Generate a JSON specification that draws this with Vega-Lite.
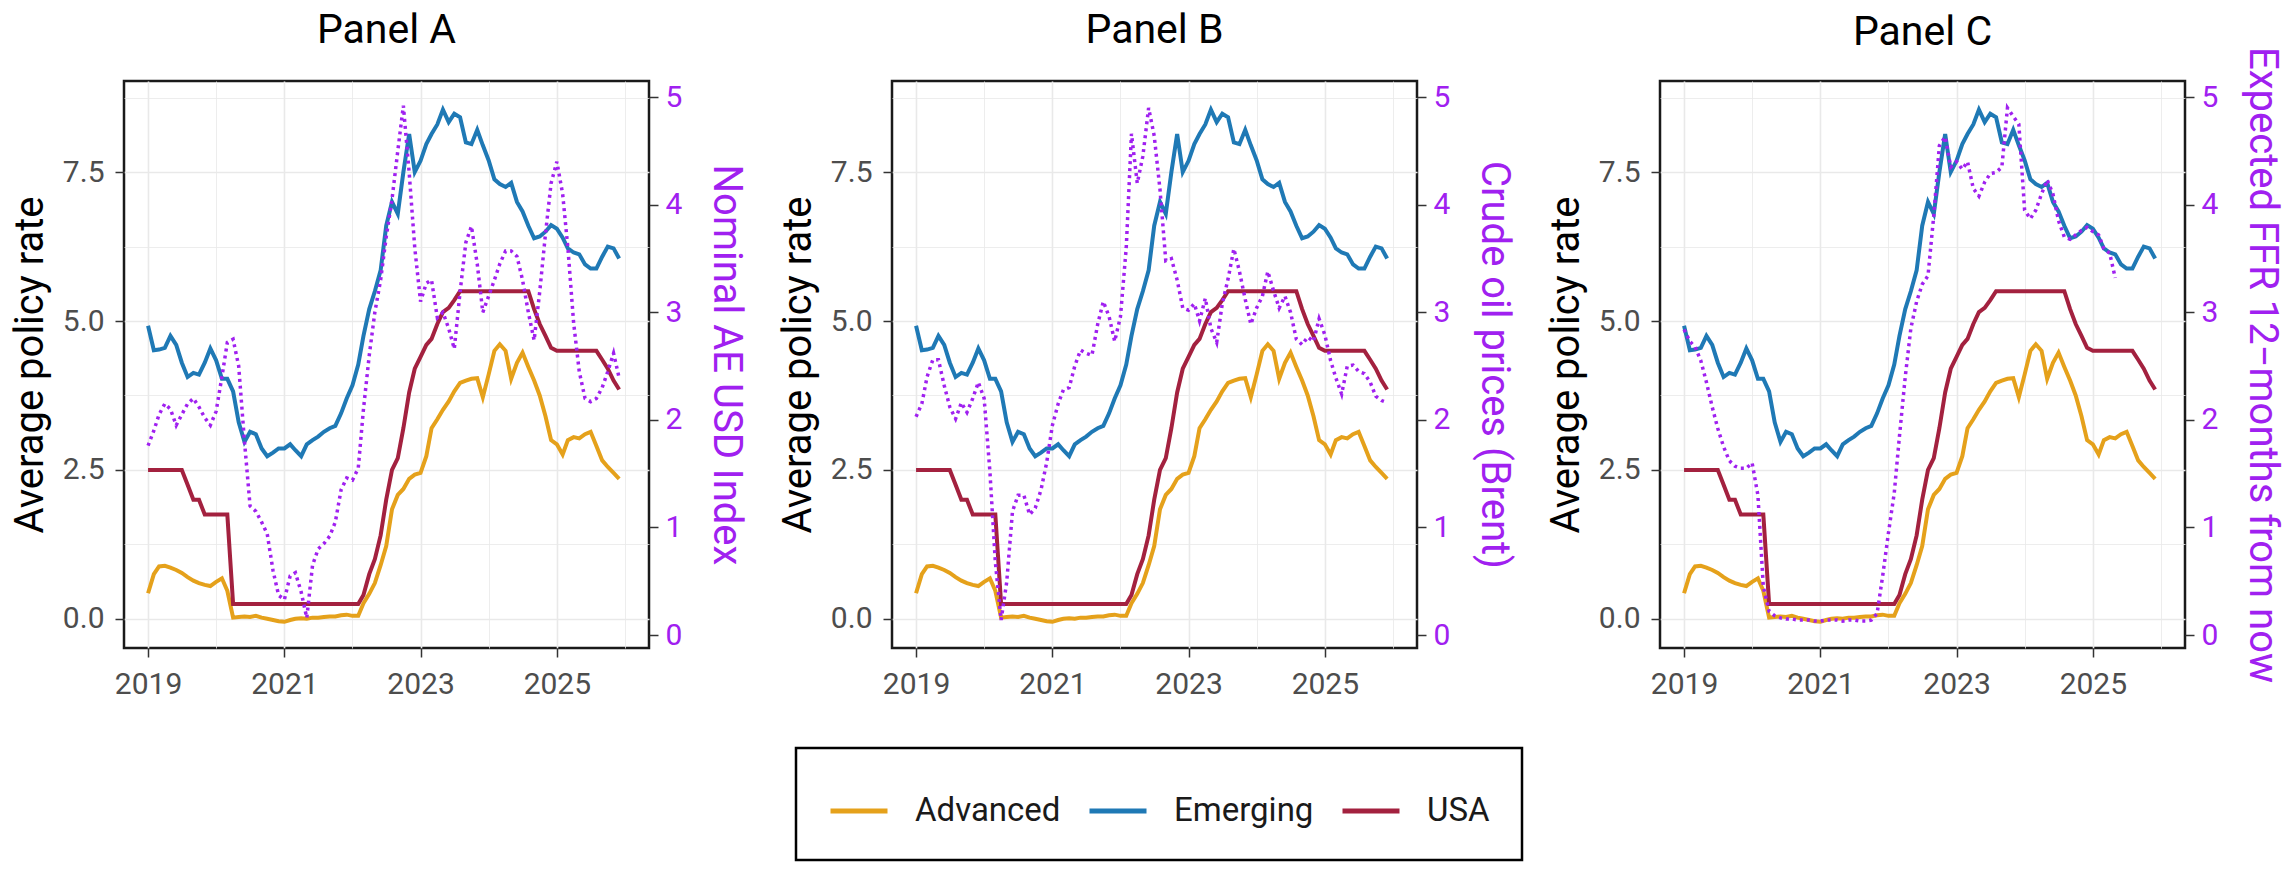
{
  "$schema": "https://vega.github.io/schema/vega-lite/v6.json",
  "background": "white",
  "padding": {"left": 9, "top": 8, "right": 5, "bottom": 0},
  "spacing": 243,
  "bounds": "flush",
  "datasets": {
    "rows": [
      {"date": "2019-01-01", "Advanced": 0.43, "Emerging": 4.92, "USA": 2.5, "usd": 1.76, "oil": 2.03, "ffr": 2.84},
      {"date": "2019-02-01", "Advanced": 0.75, "Emerging": 4.51, "USA": 2.5, "usd": 1.9, "oil": 2.15, "ffr": 2.73},
      {"date": "2019-03-01", "Advanced": 0.88, "Emerging": 4.52, "USA": 2.5, "usd": 2.05, "oil": 2.4, "ffr": 2.68},
      {"date": "2019-04-01", "Advanced": 0.89, "Emerging": 4.55, "USA": 2.5, "usd": 2.15, "oil": 2.56, "ffr": 2.55},
      {"date": "2019-05-01", "Advanced": 0.86, "Emerging": 4.75, "USA": 2.5, "usd": 2.1, "oil": 2.56, "ffr": 2.35},
      {"date": "2019-06-01", "Advanced": 0.82, "Emerging": 4.6, "USA": 2.5, "usd": 1.95, "oil": 2.32, "ffr": 2.12},
      {"date": "2019-07-01", "Advanced": 0.77, "Emerging": 4.3, "USA": 2.5, "usd": 2.05, "oil": 2.12, "ffr": 1.92},
      {"date": "2019-08-01", "Advanced": 0.7, "Emerging": 4.06, "USA": 2.25, "usd": 2.15, "oil": 2.01, "ffr": 1.75},
      {"date": "2019-09-01", "Advanced": 0.64, "Emerging": 4.13, "USA": 2.0, "usd": 2.2, "oil": 2.16, "ffr": 1.62},
      {"date": "2019-10-01", "Advanced": 0.6, "Emerging": 4.1, "USA": 2.0, "usd": 2.12, "oil": 2.07, "ffr": 1.57},
      {"date": "2019-11-01", "Advanced": 0.57, "Emerging": 4.3, "USA": 1.75, "usd": 2.02, "oil": 2.2, "ffr": 1.55},
      {"date": "2019-12-01", "Advanced": 0.55, "Emerging": 4.54, "USA": 1.75, "usd": 1.95, "oil": 2.35, "ffr": 1.55},
      {"date": "2020-01-01", "Advanced": 0.62, "Emerging": 4.34, "USA": 1.75, "usd": 2.08, "oil": 2.2, "ffr": 1.6},
      {"date": "2020-02-01", "Advanced": 0.68, "Emerging": 4.03, "USA": 1.75, "usd": 2.4, "oil": 1.52, "ffr": 1.3},
      {"date": "2020-03-01", "Advanced": 0.47, "Emerging": 4.03, "USA": 1.75, "usd": 2.72, "oil": 0.68, "ffr": 0.45},
      {"date": "2020-04-01", "Advanced": 0.02, "Emerging": 3.82, "USA": 0.25, "usd": 2.75, "oil": 0.14, "ffr": 0.22},
      {"date": "2020-05-01", "Advanced": 0.03, "Emerging": 3.3, "USA": 0.25, "usd": 2.5, "oil": 0.49, "ffr": 0.18},
      {"date": "2020-06-01", "Advanced": 0.04, "Emerging": 2.97, "USA": 0.25, "usd": 1.8, "oil": 1.15, "ffr": 0.16},
      {"date": "2020-07-01", "Advanced": 0.03, "Emerging": 3.14, "USA": 0.25, "usd": 1.2, "oil": 1.3, "ffr": 0.15},
      {"date": "2020-08-01", "Advanced": 0.05, "Emerging": 3.1, "USA": 0.25, "usd": 1.15, "oil": 1.3, "ffr": 0.15},
      {"date": "2020-09-01", "Advanced": 0.02, "Emerging": 2.86, "USA": 0.25, "usd": 1.05, "oil": 1.12, "ffr": 0.14},
      {"date": "2020-10-01", "Advanced": 0.0, "Emerging": 2.73, "USA": 0.25, "usd": 0.94, "oil": 1.18, "ffr": 0.14},
      {"date": "2020-11-01", "Advanced": -0.02, "Emerging": 2.79, "USA": 0.25, "usd": 0.6, "oil": 1.35, "ffr": 0.14},
      {"date": "2020-12-01", "Advanced": -0.04, "Emerging": 2.86, "USA": 0.25, "usd": 0.37, "oil": 1.6, "ffr": 0.13},
      {"date": "2021-01-01", "Advanced": -0.05, "Emerging": 2.86, "USA": 0.25, "usd": 0.33, "oil": 1.95, "ffr": 0.13},
      {"date": "2021-02-01", "Advanced": -0.02, "Emerging": 2.93, "USA": 0.25, "usd": 0.55, "oil": 2.15, "ffr": 0.14},
      {"date": "2021-03-01", "Advanced": 0.0, "Emerging": 2.83, "USA": 0.25, "usd": 0.58, "oil": 2.28, "ffr": 0.14},
      {"date": "2021-04-01", "Advanced": 0.01, "Emerging": 2.73, "USA": 0.25, "usd": 0.4, "oil": 2.3, "ffr": 0.14},
      {"date": "2021-05-01", "Advanced": 0.0, "Emerging": 2.93, "USA": 0.25, "usd": 0.16, "oil": 2.5, "ffr": 0.13},
      {"date": "2021-06-01", "Advanced": 0.02, "Emerging": 3.0, "USA": 0.25, "usd": 0.65, "oil": 2.65, "ffr": 0.14},
      {"date": "2021-07-01", "Advanced": 0.02, "Emerging": 3.06, "USA": 0.25, "usd": 0.8, "oil": 2.62, "ffr": 0.14},
      {"date": "2021-08-01", "Advanced": 0.03, "Emerging": 3.14, "USA": 0.25, "usd": 0.85, "oil": 2.6, "ffr": 0.13},
      {"date": "2021-09-01", "Advanced": 0.04, "Emerging": 3.2, "USA": 0.25, "usd": 0.92, "oil": 2.89, "ffr": 0.13},
      {"date": "2021-10-01", "Advanced": 0.04, "Emerging": 3.24, "USA": 0.25, "usd": 1.05, "oil": 3.1, "ffr": 0.14},
      {"date": "2021-11-01", "Advanced": 0.06, "Emerging": 3.45, "USA": 0.25, "usd": 1.35, "oil": 2.96, "ffr": 0.2},
      {"date": "2021-12-01", "Advanced": 0.07, "Emerging": 3.7, "USA": 0.25, "usd": 1.46, "oil": 2.73, "ffr": 0.55},
      {"date": "2022-01-01", "Advanced": 0.05, "Emerging": 3.92, "USA": 0.25, "usd": 1.44, "oil": 2.96, "ffr": 0.95},
      {"date": "2022-02-01", "Advanced": 0.05, "Emerging": 4.27, "USA": 0.25, "usd": 1.55, "oil": 3.6, "ffr": 1.32},
      {"date": "2022-03-01", "Advanced": 0.26, "Emerging": 4.75, "USA": 0.4, "usd": 2.1, "oil": 4.66, "ffr": 1.85},
      {"date": "2022-04-01", "Advanced": 0.42, "Emerging": 5.2, "USA": 0.75, "usd": 2.6, "oil": 4.2, "ffr": 2.4},
      {"date": "2022-05-01", "Advanced": 0.6, "Emerging": 5.5, "USA": 1.0, "usd": 3.0, "oil": 4.45, "ffr": 2.85},
      {"date": "2022-06-01", "Advanced": 0.9, "Emerging": 5.85, "USA": 1.4, "usd": 3.3, "oil": 4.9, "ffr": 3.1},
      {"date": "2022-07-01", "Advanced": 1.22, "Emerging": 6.6, "USA": 2.0, "usd": 3.7, "oil": 4.64, "ffr": 3.26},
      {"date": "2022-08-01", "Advanced": 1.84, "Emerging": 7.0, "USA": 2.5, "usd": 4.05, "oil": 4.14, "ffr": 3.34},
      {"date": "2022-09-01", "Advanced": 2.08, "Emerging": 6.8, "USA": 2.7, "usd": 4.5, "oil": 3.48, "ffr": 3.9},
      {"date": "2022-10-01", "Advanced": 2.18, "Emerging": 7.5, "USA": 3.2, "usd": 4.92, "oil": 3.5, "ffr": 4.55},
      {"date": "2022-11-01", "Advanced": 2.35, "Emerging": 8.14, "USA": 3.8, "usd": 4.3, "oil": 3.3, "ffr": 4.63},
      {"date": "2022-12-01", "Advanced": 2.42, "Emerging": 7.5, "USA": 4.2, "usd": 3.6, "oil": 3.04, "ffr": 4.35},
      {"date": "2023-01-01", "Advanced": 2.45, "Emerging": 7.69, "USA": 4.4, "usd": 3.1, "oil": 3.02, "ffr": 4.4},
      {"date": "2023-02-01", "Advanced": 2.73, "Emerging": 7.97, "USA": 4.6, "usd": 3.27, "oil": 3.08, "ffr": 4.33},
      {"date": "2023-03-01", "Advanced": 3.2, "Emerging": 8.14, "USA": 4.7, "usd": 3.3, "oil": 2.92, "ffr": 4.4},
      {"date": "2023-04-01", "Advanced": 3.35, "Emerging": 8.3, "USA": 4.95, "usd": 2.95, "oil": 3.13, "ffr": 4.15},
      {"date": "2023-05-01", "Advanced": 3.51, "Emerging": 8.55, "USA": 5.15, "usd": 3.0, "oil": 2.85, "ffr": 4.08},
      {"date": "2023-06-01", "Advanced": 3.65, "Emerging": 8.34, "USA": 5.22, "usd": 2.85, "oil": 2.72, "ffr": 4.21},
      {"date": "2023-07-01", "Advanced": 3.82, "Emerging": 8.48, "USA": 5.35, "usd": 2.66, "oil": 3.08, "ffr": 4.29},
      {"date": "2023-08-01", "Advanced": 3.96, "Emerging": 8.42, "USA": 5.5, "usd": 3.19, "oil": 3.31, "ffr": 4.3},
      {"date": "2023-09-01", "Advanced": 4.0, "Emerging": 8.0, "USA": 5.5, "usd": 3.65, "oil": 3.59, "ffr": 4.35},
      {"date": "2023-10-01", "Advanced": 4.03, "Emerging": 7.97, "USA": 5.5, "usd": 3.8, "oil": 3.38, "ffr": 4.9},
      {"date": "2023-11-01", "Advanced": 4.04, "Emerging": 8.21, "USA": 5.5, "usd": 3.45, "oil": 3.12, "ffr": 4.82},
      {"date": "2023-12-01", "Advanced": 3.72, "Emerging": 7.95, "USA": 5.5, "usd": 3.0, "oil": 2.89, "ffr": 4.75},
      {"date": "2024-01-01", "Advanced": 4.1, "Emerging": 7.7, "USA": 5.5, "usd": 3.15, "oil": 3.04, "ffr": 3.95},
      {"date": "2024-02-01", "Advanced": 4.5, "Emerging": 7.38, "USA": 5.5, "usd": 3.3, "oil": 3.15, "ffr": 3.87},
      {"date": "2024-03-01", "Advanced": 4.61, "Emerging": 7.3, "USA": 5.5, "usd": 3.45, "oil": 3.38, "ffr": 3.95},
      {"date": "2024-04-01", "Advanced": 4.5, "Emerging": 7.25, "USA": 5.5, "usd": 3.57, "oil": 3.2, "ffr": 4.1},
      {"date": "2024-05-01", "Advanced": 4.03, "Emerging": 7.32, "USA": 5.5, "usd": 3.57, "oil": 3.04, "ffr": 4.23},
      {"date": "2024-06-01", "Advanced": 4.3, "Emerging": 7.0, "USA": 5.5, "usd": 3.52, "oil": 3.15, "ffr": 4.1},
      {"date": "2024-07-01", "Advanced": 4.47, "Emerging": 6.84, "USA": 5.5, "usd": 3.3, "oil": 3.0, "ffr": 3.85},
      {"date": "2024-08-01", "Advanced": 4.23, "Emerging": 6.6, "USA": 5.5, "usd": 3.0, "oil": 2.75, "ffr": 3.7},
      {"date": "2024-09-01", "Advanced": 4.0, "Emerging": 6.39, "USA": 5.2, "usd": 2.74, "oil": 2.7, "ffr": 3.68},
      {"date": "2024-10-01", "Advanced": 3.75, "Emerging": 6.42, "USA": 4.95, "usd": 3.19, "oil": 2.77, "ffr": 3.72},
      {"date": "2024-11-01", "Advanced": 3.4, "Emerging": 6.5, "USA": 4.75, "usd": 3.73, "oil": 2.73, "ffr": 3.76},
      {"date": "2024-12-01", "Advanced": 3.0, "Emerging": 6.61, "USA": 4.55, "usd": 4.2, "oil": 2.94, "ffr": 3.79},
      {"date": "2025-01-01", "Advanced": 2.93, "Emerging": 6.55, "USA": 4.5, "usd": 4.4, "oil": 2.79, "ffr": 3.75},
      {"date": "2025-02-01", "Advanced": 2.76, "Emerging": 6.4, "USA": 4.5, "usd": 4.1, "oil": 2.55, "ffr": 3.72},
      {"date": "2025-03-01", "Advanced": 3.0, "Emerging": 6.22, "USA": 4.5, "usd": 3.6, "oil": 2.39, "ffr": 3.59},
      {"date": "2025-04-01", "Advanced": 3.05, "Emerging": 6.15, "USA": 4.5, "usd": 2.9, "oil": 2.24, "ffr": 3.55},
      {"date": "2025-05-01", "Advanced": 3.03, "Emerging": 6.12, "USA": 4.5, "usd": 2.45, "oil": 2.5, "ffr": 3.32},
      {"date": "2025-06-01", "Advanced": 3.1, "Emerging": 5.95, "USA": 4.5, "usd": 2.2, "oil": 2.51},
      {"date": "2025-07-01", "Advanced": 3.14, "Emerging": 5.88, "USA": 4.5, "usd": 2.17, "oil": 2.45},
      {"date": "2025-08-01", "Advanced": 2.9, "Emerging": 5.88, "USA": 4.5, "usd": 2.2, "oil": 2.43},
      {"date": "2025-09-01", "Advanced": 2.66, "Emerging": 6.08, "USA": 4.35, "usd": 2.3, "oil": 2.35},
      {"date": "2025-10-01", "Advanced": 2.55, "Emerging": 6.25, "USA": 4.2, "usd": 2.45, "oil": 2.22},
      {"date": "2025-11-01", "Advanced": 2.45, "Emerging": 6.22, "USA": 4.0, "usd": 2.62, "oil": 2.18},
      {"date": "2025-12-01", "Advanced": 2.35, "Emerging": 6.05, "USA": 3.85, "usd": 2.39, "oil": 2.16}
    ]
  },
  "hconcat": [
    {
      "title": {"text": "Panel A", "frame": "group", "offset": 29},
      "width": 525,
      "height": 567,
      "data": {"name": "rows"},
      "layer": [
        {
          "transform": [{"fold": ["Advanced", "Emerging", "USA"], "as": ["series", "value"]}],
          "mark": {"type": "line", "strokeWidth": 4},
          "encoding": {
            "x": {"field": "date", "type": "temporal",
              "scale": {"type": "utc", "domain": [{"year": 2018, "month": 8, "date": 25, "utc": true}, {"year": 2026, "month": 5, "date": 10, "utc": true}]},
              "axis": {"title": null, "format": "%Y",
                "values": [{"year": 2019, "utc": true}, {"year": 2020, "utc": true}, {"year": 2021, "utc": true}, {"year": 2022, "utc": true}, {"year": 2023, "utc": true}, {"year": 2024, "utc": true}, {"year": 2025, "utc": true}, {"year": 2026, "utc": true}],
                "labelExpr": "utcyear(datum.value) % 2 == 1 ? datum.label : ''",
                "tickOpacity": {"condition": {"test": "utcyear(datum.value) % 2 == 1", "value": 1}, "value": 0},
                "gridWidth": {"condition": {"test": "utcyear(datum.value) % 2 == 1", "value": 1.6}, "value": 0.8},
                "grid": true, "tickSize": 9, "labelPadding": 12}},
            "y": {"field": "value", "type": "quantitative",
              "scale": {"domain": [-0.49, 9.03], "nice": false, "zero": false},
              "axis": {"title": "Average policy rate", "values": [0, 1.25, 2.5, 3.75, 5, 6.25, 7.5, 8.75],
                "labelExpr": "datum.value % 2.5 == 0 ? format(datum.value, '.1f') : ''",
                "tickOpacity": {"condition": {"test": "datum.value % 2.5 == 0", "value": 1}, "value": 0},
                "gridWidth": {"condition": {"test": "datum.value % 2.5 == 0", "value": 1.6}, "value": 0.8},
                "grid": true, "tickSize": 9, "labelPadding": 11, "titlePadding": 12}},
            "color": {"field": "series", "type": "nominal",
              "scale": {"domain": ["Advanced", "Emerging", "USA"], "range": ["#E5A11B", "#1F79B5", "#A3213F"]},
              "legend": {"title": null, "orient": "none", "legendX": 672, "legendY": 667, "direction": "horizontal"}}
          }
        },
        {
          "mark": {"type": "line", "color": "#a020f0", "strokeWidth": 3.5, "strokeDash": [3, 4]},
          "encoding": {
            "x": {"field": "date", "type": "temporal",
              "axis": {"title": null, "format": "%Y",
                "values": [{"year": 2019, "utc": true}, {"year": 2020, "utc": true}, {"year": 2021, "utc": true}, {"year": 2022, "utc": true}, {"year": 2023, "utc": true}, {"year": 2024, "utc": true}, {"year": 2025, "utc": true}, {"year": 2026, "utc": true}],
                "labelExpr": "utcyear(datum.value) % 2 == 1 ? datum.label : ''",
                "tickOpacity": {"condition": {"test": "utcyear(datum.value) % 2 == 1", "value": 1}, "value": 0},
                "gridWidth": {"condition": {"test": "utcyear(datum.value) % 2 == 1", "value": 1.6}, "value": 0.8},
                "grid": true, "tickSize": 9, "labelPadding": 12}},
            "y": {"field": "usd", "type": "quantitative",
              "scale": {"domain": [-0.12, 5.15], "nice": false, "zero": false},
              "axis": {"orient": "right", "title": "Nominal AE USD Index", "values": [0, 1, 2, 3, 4, 5], "format": "d", "grid": false,
                "labelColor": "#a020f0", "titleColor": "#a020f0", "tickSize": 9, "labelPadding": 7, "titlePadding": 24}}
          }
        }
      ],
      "resolve": {"scale": {"y": "independent"}}
    },
    {
      "title": {"text": "Panel B", "frame": "group", "offset": 29},
      "width": 525,
      "height": 567,
      "data": {"name": "rows"},
      "layer": [
        {
          "transform": [{"fold": ["Advanced", "Emerging", "USA"], "as": ["series", "value"]}],
          "mark": {"type": "line", "strokeWidth": 4},
          "encoding": {
            "x": {"field": "date", "type": "temporal",
              "scale": {"type": "utc", "domain": [{"year": 2018, "month": 8, "date": 25, "utc": true}, {"year": 2026, "month": 5, "date": 10, "utc": true}]},
              "axis": {"title": null, "format": "%Y",
                "values": [{"year": 2019, "utc": true}, {"year": 2020, "utc": true}, {"year": 2021, "utc": true}, {"year": 2022, "utc": true}, {"year": 2023, "utc": true}, {"year": 2024, "utc": true}, {"year": 2025, "utc": true}, {"year": 2026, "utc": true}],
                "labelExpr": "utcyear(datum.value) % 2 == 1 ? datum.label : ''",
                "tickOpacity": {"condition": {"test": "utcyear(datum.value) % 2 == 1", "value": 1}, "value": 0},
                "gridWidth": {"condition": {"test": "utcyear(datum.value) % 2 == 1", "value": 1.6}, "value": 0.8},
                "grid": true, "tickSize": 9, "labelPadding": 12}},
            "y": {"field": "value", "type": "quantitative",
              "scale": {"domain": [-0.49, 9.03], "nice": false, "zero": false},
              "axis": {"title": "Average policy rate", "values": [0, 1.25, 2.5, 3.75, 5, 6.25, 7.5, 8.75],
                "labelExpr": "datum.value % 2.5 == 0 ? format(datum.value, '.1f') : ''",
                "tickOpacity": {"condition": {"test": "datum.value % 2.5 == 0", "value": 1}, "value": 0},
                "gridWidth": {"condition": {"test": "datum.value % 2.5 == 0", "value": 1.6}, "value": 0.8},
                "grid": true, "tickSize": 9, "labelPadding": 11, "titlePadding": 12}},
            "color": {"field": "series", "type": "nominal",
              "scale": {"domain": ["Advanced", "Emerging", "USA"], "range": ["#E5A11B", "#1F79B5", "#A3213F"]},
              "legend": {"title": null, "orient": "none", "legendX": 672, "legendY": 667, "direction": "horizontal"}}
          }
        },
        {
          "mark": {"type": "line", "color": "#a020f0", "strokeWidth": 3.5, "strokeDash": [3, 4]},
          "encoding": {
            "x": {"field": "date", "type": "temporal",
              "axis": {"title": null, "format": "%Y",
                "values": [{"year": 2019, "utc": true}, {"year": 2020, "utc": true}, {"year": 2021, "utc": true}, {"year": 2022, "utc": true}, {"year": 2023, "utc": true}, {"year": 2024, "utc": true}, {"year": 2025, "utc": true}, {"year": 2026, "utc": true}],
                "labelExpr": "utcyear(datum.value) % 2 == 1 ? datum.label : ''",
                "tickOpacity": {"condition": {"test": "utcyear(datum.value) % 2 == 1", "value": 1}, "value": 0},
                "gridWidth": {"condition": {"test": "utcyear(datum.value) % 2 == 1", "value": 1.6}, "value": 0.8},
                "grid": true, "tickSize": 9, "labelPadding": 12}},
            "y": {"field": "oil", "type": "quantitative",
              "scale": {"domain": [-0.12, 5.15], "nice": false, "zero": false},
              "axis": {"orient": "right", "title": "Crude oil prices (Brent)", "values": [0, 1, 2, 3, 4, 5], "format": "d", "grid": false,
                "labelColor": "#a020f0", "titleColor": "#a020f0", "tickSize": 9, "labelPadding": 7, "titlePadding": 24}}
          }
        }
      ],
      "resolve": {"scale": {"y": "independent"}}
    },
    {
      "title": {"text": "Panel C", "frame": "group", "offset": -8},
      "width": 525,
      "height": 567,
      "data": {"name": "rows"},
      "layer": [
        {
          "transform": [{"fold": ["Advanced", "Emerging", "USA"], "as": ["series", "value"]}],
          "mark": {"type": "line", "strokeWidth": 4},
          "encoding": {
            "x": {"field": "date", "type": "temporal",
              "scale": {"type": "utc", "domain": [{"year": 2018, "month": 8, "date": 25, "utc": true}, {"year": 2026, "month": 5, "date": 10, "utc": true}]},
              "axis": {"title": null, "format": "%Y",
                "values": [{"year": 2019, "utc": true}, {"year": 2020, "utc": true}, {"year": 2021, "utc": true}, {"year": 2022, "utc": true}, {"year": 2023, "utc": true}, {"year": 2024, "utc": true}, {"year": 2025, "utc": true}, {"year": 2026, "utc": true}],
                "labelExpr": "utcyear(datum.value) % 2 == 1 ? datum.label : ''",
                "tickOpacity": {"condition": {"test": "utcyear(datum.value) % 2 == 1", "value": 1}, "value": 0},
                "gridWidth": {"condition": {"test": "utcyear(datum.value) % 2 == 1", "value": 1.6}, "value": 0.8},
                "grid": true, "tickSize": 9, "labelPadding": 12}},
            "y": {"field": "value", "type": "quantitative",
              "scale": {"domain": [-0.49, 9.03], "nice": false, "zero": false},
              "axis": {"title": "Average policy rate", "values": [0, 1.25, 2.5, 3.75, 5, 6.25, 7.5, 8.75],
                "labelExpr": "datum.value % 2.5 == 0 ? format(datum.value, '.1f') : ''",
                "tickOpacity": {"condition": {"test": "datum.value % 2.5 == 0", "value": 1}, "value": 0},
                "gridWidth": {"condition": {"test": "datum.value % 2.5 == 0", "value": 1.6}, "value": 0.8},
                "grid": true, "tickSize": 9, "labelPadding": 11, "titlePadding": 12}},
            "color": {"field": "series", "type": "nominal",
              "scale": {"domain": ["Advanced", "Emerging", "USA"], "range": ["#E5A11B", "#1F79B5", "#A3213F"]},
              "legend": {"title": null, "orient": "none", "legendX": 672, "legendY": 667, "direction": "horizontal"}}
          }
        },
        {
          "mark": {"type": "line", "color": "#a020f0", "strokeWidth": 3.5, "strokeDash": [3, 4]},
          "encoding": {
            "x": {"field": "date", "type": "temporal",
              "axis": {"title": null, "format": "%Y",
                "values": [{"year": 2019, "utc": true}, {"year": 2020, "utc": true}, {"year": 2021, "utc": true}, {"year": 2022, "utc": true}, {"year": 2023, "utc": true}, {"year": 2024, "utc": true}, {"year": 2025, "utc": true}, {"year": 2026, "utc": true}],
                "labelExpr": "utcyear(datum.value) % 2 == 1 ? datum.label : ''",
                "tickOpacity": {"condition": {"test": "utcyear(datum.value) % 2 == 1", "value": 1}, "value": 0},
                "gridWidth": {"condition": {"test": "utcyear(datum.value) % 2 == 1", "value": 1.6}, "value": 0.8},
                "grid": true, "tickSize": 9, "labelPadding": 12}},
            "y": {"field": "ffr", "type": "quantitative",
              "scale": {"domain": [-0.12, 5.15], "nice": false, "zero": false},
              "axis": {"orient": "right", "title": "Expected FFR 12−months from now", "values": [0, 1, 2, 3, 4, 5], "format": "d", "grid": false,
                "labelColor": "#a020f0", "titleColor": "#a020f0", "tickSize": 9, "labelPadding": 7, "titlePadding": 24}}
          }
        }
      ],
      "resolve": {"scale": {"y": "independent"}}
    }
  ],
  "resolve": {"scale": {"color": "shared"}, "legend": {"color": "shared"}},
  "config": {
    "font": "Roboto",
    "view": {"stroke": "#1a1a1a", "strokeWidth": 2.5},
    "axis": {"labelFont": "Roboto", "titleFont": "Roboto", "labelFontSize": 30, "titleFontSize": 40, "titleFontWeight": "normal",
      "labelColor": "#4d4d4d", "titleColor": "#000000", "tickColor": "#333333", "tickWidth": 1.5, "domain": false, "gridColor": "#e9e9e9"},
    "title": {"font": "Roboto", "fontSize": 41, "fontWeight": "normal", "color": "#000000"},
    "legend": {"labelFont": "Roboto", "labelFontSize": 33, "labelColor": "#1a1a1a", "symbolType": "stroke", "symbolStrokeWidth": 5, "symbolSize": 3249,
      "labelOffset": 25, "columnPadding": 18, "padding": 32, "strokeColor": "#000000", "strokeWidth": 2.5}
  }
}
